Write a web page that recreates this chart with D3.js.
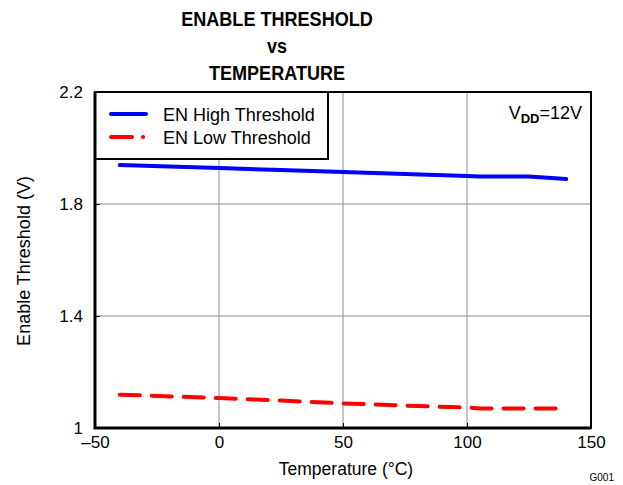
<!DOCTYPE html>
<html>
<head>
<meta charset="utf-8">
<script src="https://cdn.jsdelivr.net/npm/d3@7"></script>
<style>
body { margin: 0; background: #fff; }
svg { font-family: "Liberation Sans", Arial, sans-serif; }
</style>
</head>
<body>
<div id="chart"></div>
<script>
// Data
var temps = [-40, 0, 25, 50, 75, 100, 105, 125, 140],
	highVals = [1.939, 1.929, 1.921, 1.914, 1.907, 1.900, 1.898, 1.898, 1.889],
	lowVals = [1.119, 1.107, 1.098, 1.088, 1.080, 1.073, 1.070, 1.070, 1.070],
	xTicks = [-50, 0, 50, 100, 150],
	yTicks = [1, 1.4, 1.8, 2.2],
	titleLines = ["ENABLE THRESHOLD", "vs", "TEMPERATURE"];

var width = 623,
	height = 485,
	margin = {left: 95, right: 32, top: 92, bottom: 57},
	svg = d3.select("#chart")
	.append("svg")
	.attr("width", width)
	.attr("height", height);

var x = d3.scaleLinear()
	.domain([-50, 150])
	.range([margin.left, width - margin.right]),
	y = d3.scaleLinear()
	.domain([1, 2.2])
	.range([height - margin.bottom, margin.top]);

// gridlines
svg.append("g")
	.selectAll("line")
	.data(xTicks.slice(1, -1))
	.enter().append("line")
	.attr("x1", function(d) { return x(d); })
	.attr("x2", function(d) { return x(d); })
	.attr("y1", y(1))
	.attr("y2", y(2.2))
	.attr("stroke", "#8c8c8c")
	.attr("stroke-width", 1);
svg.append("g")
	.selectAll("line")
	.data(yTicks.slice(1, -1))
	.enter().append("line")
	.attr("x1", x(-50))
	.attr("x2", x(150))
	.attr("y1", function(d) { return y(d); })
	.attr("y2", function(d) { return y(d); })
	.attr("stroke", "#8c8c8c")
	.attr("stroke-width", 1);

// lines
var line = d3.line()
	.x(function(d) { return x(d[0]); })
	.y(function(d) { return y(d[1]); });

svg.append("path")
	.datum(d3.zip(temps, highVals))
	.attr("d", line)
	.attr("fill", "none")
	.attr("stroke", "#0000ff")
	.attr("stroke-width", 4)
	.attr("stroke-linecap", "round");

svg.append("path")
	.datum(d3.zip(temps, lowVals))
	.attr("d", line)
	.attr("fill", "none")
	.attr("stroke", "#ff0000")
	.attr("stroke-width", 4)
	.attr("stroke-dasharray", "20,12")
	.attr("stroke-linecap", "round");

// ticks (inward)
var xAxis = d3.axisBottom(x).tickValues(xTicks).tickSize(-5).tickPadding(8)
	.tickFormat(function(d) { return d < 0 ? "\u2013" + Math.abs(d) : d; });
var yAxis = d3.axisLeft(y).tickValues(yTicks).tickSize(-5).tickPadding(12)
	.tickFormat(function(d) { return d === 1 ? "1" : d3.format(".1f")(d); });

svg.append("g")
	.attr("transform", "translate(0," + y(1) + ")")
	.call(xAxis)
	.call(function(g) {
		g.select(".domain").remove();
		g.selectAll("text").attr("font-size", 17).attr("fill", "#000").attr("font-family", "Liberation Sans, Arial, sans-serif");
		g.selectAll("line").attr("stroke", "#000");
	});
svg.append("g")
	.attr("transform", "translate(" + x(-50) + ",0)")
	.call(yAxis)
	.call(function(g) {
		g.select(".domain").remove();
		g.selectAll("text").attr("font-size", 17).attr("fill", "#000").attr("font-family", "Liberation Sans, Arial, sans-serif");
		g.selectAll("line").attr("stroke", "#000");
	});

// legend box
var lg = svg.append("g");
lg.append("rect")
	.attr("x", x(-50))
	.attr("y", y(2.2))
	.attr("width", 233)
	.attr("height", 67)
	.attr("fill", "#fff")
	.attr("stroke", "#000")
	.attr("stroke-width", 2);
lg.append("line")
	.attr("x1", 111).attr("x2", 146).attr("y1", 114).attr("y2", 114)
	.attr("stroke", "#0000ff").attr("stroke-width", 4).attr("stroke-linecap", "round");
lg.append("line")
	.attr("x1", 111).attr("x2", 146).attr("y1", 137).attr("y2", 137)
	.attr("stroke", "#ff0000").attr("stroke-width", 4).attr("stroke-linecap", "round")
	.attr("stroke-dasharray", "21,11,0.1,10");
lg.append("text").attr("x", 163).attr("y", 121).attr("font-size", 18).text("EN High Threshold");
lg.append("text").attr("x", 163).attr("y", 144).attr("font-size", 18).text("EN Low Threshold");

// plot border
svg.append("rect")
	.attr("x", x(-50))
	.attr("y", y(2.2))
	.attr("width", x(150) - x(-50))
	.attr("height", y(1) - y(2.2))
	.attr("fill", "none")
	.attr("stroke", "#000")
	.attr("stroke-width", 2);
svg.append("path")
	.attr("d", "M" + x(-50) + "," + y(2.2) + "V" + y(1) + "H" + x(150))
	.attr("fill", "none")
	.attr("stroke", "#000")
	.attr("stroke-width", 3);

// VDD note
var vdd = svg.append("text")
	.attr("x", 582)
	.attr("y", 119)
	.attr("text-anchor", "end")
	.attr("font-size", 18);
vdd.append("tspan").text("V");
vdd.append("tspan").attr("font-size", 13).attr("font-weight", "bold").attr("dy", 4).text("DD");
vdd.append("tspan").attr("dy", -4).text("=12V");

// title
svg.append("g")
	.attr("transform", "translate(277,0) scale(0.86,1)")
	.selectAll("text")
	.data(titleLines)
	.enter().append("text")
	.attr("x", 0)
	.attr("y", function(d, i) { return 26 + i * 27; })
	.attr("text-anchor", "middle")
	.attr("font-size", 21)
	.attr("font-weight", "bold")
	.text(function(d) { return d; });

// axis labels
svg.append("text")
	.attr("x", 346)
	.attr("y", 475)
	.attr("text-anchor", "middle")
	.attr("font-size", 17.5)
	.text("Temperature (\u00b0C)");
svg.append("text")
	.attr("transform", "translate(30,261) rotate(-90)")
	.attr("text-anchor", "middle")
	.attr("font-size", 18)
	.text("Enable Threshold (V)");

svg.append("text")
	.attr("x", 614)
	.attr("y", 481)
	.attr("text-anchor", "end")
	.attr("font-size", 10)
	.text("G001");
</script>
</body>
</html>
